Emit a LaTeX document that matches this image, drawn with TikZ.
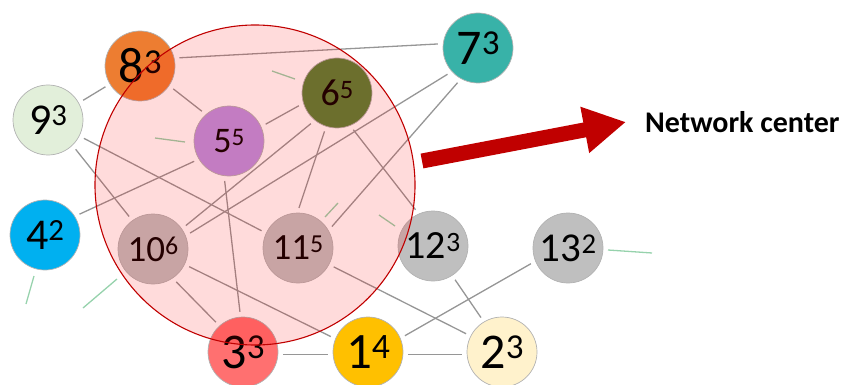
\documentclass[tikz,border=0pt]{standalone}
\usepackage{fontspec}
\setmainfont{Carlito}
\usetikzlibrary{arrows.meta,backgrounds}
\definecolor{cEight}{RGB}{237,125,49}
\definecolor{cNine}{RGB}{226,239,218}
\definecolor{cFive}{RGB}{186,145,226}
\definecolor{cSix}{RGB}{84,130,53}
\definecolor{cSeven}{RGB}{56,178,168}
\definecolor{cFour}{RGB}{0,176,240}
\definecolor{cGrey}{RGB}{191,191,191}
\definecolor{cThree}{RGB}{255,112,112}
\definecolor{cOne}{RGB}{255,192,0}
\definecolor{cTwo}{RGB}{255,242,204}
\definecolor{cEdge}{RGB}{150,150,150}
\definecolor{cGreen}{RGB}{150,210,172}
\definecolor{cDark}{RGB}{192,0,0}
\newcommand\nlab[3]{{\fontsize{#1pt}{#1pt}\selectfont #2\raisebox{0.19em}{\fontsize{\fpeval{0.7*#1}pt}{1pt}\selectfont #3}}}
\begin{document}
\begin{tikzpicture}[x=1pt,y=-1pt,
  nd/.style={circle,minimum size=70pt,inner sep=0pt,draw=black!30,line width=0.7pt},
  edge/.style={draw=cEdge,line width=1.3pt,shorten <=5pt,shorten >=5pt},
  grn/.style={draw=cGreen,line width=1.3pt}]
\useasboundingbox (0,0) rectangle (845,385);
% nodes
\node[nd,fill=cEight] (n8) at (140,66) {\nlab{50}{8}{3}};
\node[nd,fill=cNine] (n9) at (48,120) {\nlab{44}{9}{3}};
\node[nd,fill=cFive] (n5) at (229,141) {\nlab{36}{5}{5}};
\node[nd,fill=cSix] (n6) at (337,93) {\nlab{38}{6}{5}};
\node[nd,fill=cSeven] (n7) at (478,48) {\nlab{50}{7}{3}};
\node[nd,fill=cFour] (n4) at (45,235) {\nlab{44}{4}{2}};
\node[nd,fill=cGrey] (n10) at (153,249) {\nlab{37}{10}{6}};
\node[nd,fill=cGrey] (n11) at (298,248) {\nlab{37}{11}{5}};
\node[nd,fill=cGrey] (n12) at (433,246) {\nlab{40}{12}{3}};
\node[nd,fill=cGrey] (n13) at (568,248) {\nlab{41}{13}{2}};
\node[nd,fill=cThree] (n3) at (243,352) {\nlab{50}{3}{3}};
\node[nd,fill=cOne] (n1) at (368,352) {\nlab{51}{1}{4}};
\node[nd,fill=cTwo] (n2) at (502,352) {\nlab{50}{2}{3}};
% edges and short strokes behind the nodes
\begin{pgfonlayer}{background}
\path[edge] (n9.29) -- (n8.211);
\path[edge] (n8.13) -- (n7.173);
\path[edge] (n8.326) -- (n5.131);
\path[edge] (n5.24) -- (n6.197);
\path[edge] (n9.333) -- (n11.155);
\path[edge] (n9.314) -- (n10.126);
\path[edge] (n4.32) -- (n5.211);
\path[edge] (n5.262) -- (n3.94);
\path[edge] (n6.231) -- (n10.35);
\path[edge] (n7.222) -- (n10.22);
\path[edge] (n6.252) -- (n11.91);
\path[edge] (n7.241) -- (n11.30);
\path[edge] (n6.292) -- (n12.114);
\path[edge] (n10.304) -- (n3.132);
\path[edge] (n10.334) -- (n1.158);
\path[edge] (n11.332) -- (n2.153);
\path[edge] (n12.303) -- (n2.121);
\path[edge] (n13.202) -- (n1.23);
\path[edge] (n3.356) -- (n1.184);
\path[edge] (n1.356) -- (n2.184);
\coordinate (g4a) at (34,276); \coordinate (g4b) at (26,304);
\coordinate (g10a) at (117,279); \coordinate (g10b) at (83,308);
\coordinate (g5a) at (155,138); \coordinate (g5b) at (185,142);
\coordinate (g6a) at (272,71); \coordinate (g6b) at (295,79);
\coordinate (g11a) at (325,217); \coordinate (g11b) at (338,203);
\coordinate (g12a) at (379,215); \coordinate (g12b) at (395,226);
\coordinate (g13a) at (608,250); \coordinate (g13b) at (652,253);
\path[grn] (g4a) -- (g4b);
\path[grn] (g10a) -- (g10b);
\path[grn] (g5a) -- (g5b);
\path[grn] (g6a) -- (g6b);
\path[grn] (g11a) -- (g11b);
\path[grn] (g12a) -- (g12b);
\path[grn] (g13a) -- (g13b);
\end{pgfonlayer}
% network center overlay
\node[circle,minimum size=320pt,inner sep=0pt,fill=red,fill opacity=0.14,draw=cDark,draw opacity=1,line width=1.1pt] (center) at (255,185) {};
% arrow and label
\coordinate (atail) at (422,161);
\coordinate (ahead) at (626,122);
\draw[cDark,line width=15pt,-{Triangle[length=42pt,width=44pt]}] (atail) -- (ahead);
\node[anchor=west,inner sep=0pt,font={\fontsize{30pt}{30pt}\selectfont\bfseries}] (lbl) at (645,122) {Network center};
\end{tikzpicture}
\end{document}
